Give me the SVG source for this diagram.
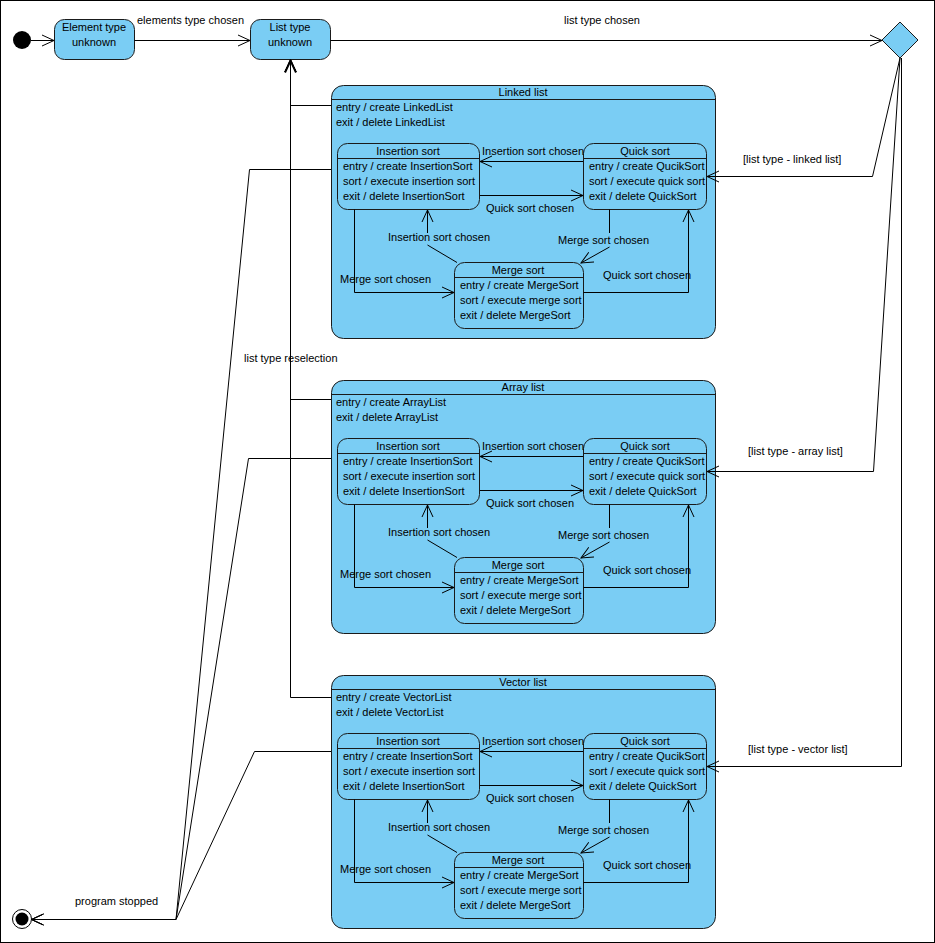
<svg xmlns="http://www.w3.org/2000/svg" width="935" height="943" viewBox="0 0 935 943">
<defs>
<marker id="arr" markerUnits="userSpaceOnUse" markerWidth="14" markerHeight="14" viewBox="0 0 14 14" refX="12" refY="7" orient="auto">
<path d="M0,1.5 L12,7 L0,12.5" fill="none" stroke="#000" stroke-width="1"/>
</marker>
<marker id="arrb" markerUnits="userSpaceOnUse" markerWidth="14" markerHeight="14" viewBox="0 0 14 14" refX="12" refY="7" orient="auto">
<path d="M0,1.5 L12,7 L0,12.5" fill="none" stroke="#000" stroke-width="2"/>
</marker>
<style>
text{font-family:"Liberation Sans",Arial,sans-serif;font-size:11px;fill:#000}
.m{text-anchor:middle}
.st{fill:#7ACDF4;stroke:#1a1a1a;stroke-width:1}
.ln{fill:none;stroke:#1a1a1a;stroke-width:1}
.c{fill:none;stroke:#000;stroke-width:1;marker-end:url(#arr)}
.c0{fill:none;stroke:#000;stroke-width:1}
</style>
</defs>
<rect x="0.5" y="0.5" width="934" height="942" fill="#fff" stroke="#000"/>

<g id="initial"><circle cx="22" cy="40" r="9" fill="#000"/></g>
<g id="final"><circle cx="22" cy="919" r="9.5" fill="#fff" stroke="#000"/><circle cx="22" cy="919" r="6.5" fill="#000"/></g>

<g id="element-type-unknown">
<rect class="st" x="54.5" y="19.5" width="80" height="40" rx="10"/>
<text class="m" x="94" y="31">Element type</text>
<text class="m" x="94" y="46">unknown</text>
</g>
<g id="list-type-unknown">
<rect class="st" x="250.5" y="19.5" width="80" height="40" rx="10"/>
<text class="m" x="290" y="31">List type</text>
<text class="m" x="290" y="46">unknown</text>
</g>
<g id="choice"><path class="st" d="M900,22 L918,40 L900,58 L882,40 Z"/></g>

<g id="linked-list">
<rect class="st" x="331.5" y="85.5" width="384" height="253" rx="12"/>
<path class="ln" d="M331.5,99.5 H715.5"/>
<text class="m" x="523" y="96">Linked list</text>
<text x="336" y="111">entry / create LinkedList</text>
<text x="336" y="126">exit / delete LinkedList</text>
<g id="linked-insertion-sort">
<rect class="st" x="337.5" y="143.5" width="142" height="66" rx="10"/><path class="ln" d="M337.5,158.5 H479.5"/>
<text class="m" x="408" y="155">Insertion sort</text>
<text x="343" y="170">entry / create InsertionSort</text><text x="343" y="185">sort / execute insertion sort</text><text x="343" y="200">exit / delete InsertionSort</text>
</g>
<g id="linked-quick-sort">
<rect class="st" x="583.5" y="143.5" width="123" height="66" rx="10"/><path class="ln" d="M583.5,158.5 H706.5"/>
<text class="m" x="645" y="155">Quick sort</text>
<text x="589" y="170">entry / create QucikSort</text><text x="589" y="185">sort / execute quick sort</text><text x="589" y="200">exit / delete QuickSort</text>
</g>
<g id="linked-merge-sort">
<rect class="st" x="454.5" y="262.5" width="129" height="66" rx="10"/><path class="ln" d="M454.5,277.5 H583.5"/>
<text class="m" x="518" y="274">Merge sort</text>
<text x="460" y="289">entry / create MergeSort</text><text x="460" y="304">sort / execute merge sort</text><text x="460" y="319">exit / delete MergeSort</text>
</g>
</g>

<g id="array-list" transform="translate(0,295)">
<rect class="st" x="331.5" y="85.5" width="384" height="253" rx="12"/>
<path class="ln" d="M331.5,99.5 H715.5"/>
<text class="m" x="523" y="96">Array list</text>
<text x="336" y="111">entry / create ArrayList</text>
<text x="336" y="126">exit / delete ArrayList</text>
<g id="array-insertion-sort">
<rect class="st" x="337.5" y="143.5" width="142" height="66" rx="10"/><path class="ln" d="M337.5,158.5 H479.5"/>
<text class="m" x="408" y="155">Insertion sort</text>
<text x="343" y="170">entry / create InsertionSort</text><text x="343" y="185">sort / execute insertion sort</text><text x="343" y="200">exit / delete InsertionSort</text>
</g>
<g id="array-quick-sort">
<rect class="st" x="583.5" y="143.5" width="123" height="66" rx="10"/><path class="ln" d="M583.5,158.5 H706.5"/>
<text class="m" x="645" y="155">Quick sort</text>
<text x="589" y="170">entry / create QucikSort</text><text x="589" y="185">sort / execute quick sort</text><text x="589" y="200">exit / delete QuickSort</text>
</g>
<g id="array-merge-sort">
<rect class="st" x="454.5" y="262.5" width="129" height="66" rx="10"/><path class="ln" d="M454.5,277.5 H583.5"/>
<text class="m" x="518" y="274">Merge sort</text>
<text x="460" y="289">entry / create MergeSort</text><text x="460" y="304">sort / execute merge sort</text><text x="460" y="319">exit / delete MergeSort</text>
</g>
</g>

<g id="vector-list" transform="translate(0,590)">
<rect class="st" x="331.5" y="85.5" width="384" height="253" rx="12"/>
<path class="ln" d="M331.5,99.5 H715.5"/>
<text class="m" x="523" y="96">Vector list</text>
<text x="336" y="111">entry / create VectorList</text>
<text x="336" y="126">exit / delete VectorList</text>
<g id="vector-insertion-sort">
<rect class="st" x="337.5" y="143.5" width="142" height="66" rx="10"/><path class="ln" d="M337.5,158.5 H479.5"/>
<text class="m" x="408" y="155">Insertion sort</text>
<text x="343" y="170">entry / create InsertionSort</text><text x="343" y="185">sort / execute insertion sort</text><text x="343" y="200">exit / delete InsertionSort</text>
</g>
<g id="vector-quick-sort">
<rect class="st" x="583.5" y="143.5" width="123" height="66" rx="10"/><path class="ln" d="M583.5,158.5 H706.5"/>
<text class="m" x="645" y="155">Quick sort</text>
<text x="589" y="170">entry / create QucikSort</text><text x="589" y="185">sort / execute quick sort</text><text x="589" y="200">exit / delete QuickSort</text>
</g>
<g id="vector-merge-sort">
<rect class="st" x="454.5" y="262.5" width="129" height="66" rx="10"/><path class="ln" d="M454.5,277.5 H583.5"/>
<text class="m" x="518" y="274">Merge sort</text>
<text x="460" y="289">entry / create MergeSort</text><text x="460" y="304">sort / execute merge sort</text><text x="460" y="319">exit / delete MergeSort</text>
</g>
</g>

<g id="connectors">
<path class="c" d="M31,40.5 H54"/>
<path class="c" d="M134.5,40.5 H250"/>
<text x="137" y="24">elements type chosen</text>
<path class="c" d="M330.5,40.5 H882"/>
<text class="m" x="602" y="24">list type chosen</text>

<path class="c" d="M900,58 L872.5,176.5 H707"/>
<text x="743" y="163">[list type - linked list]</text>
<path class="c" d="M900,58 L873.5,471.5 H707"/>
<text x="748" y="455">[list type - array list]</text>
<path class="c" d="M901.5,58 V766.5 H707"/>
<text x="748" y="753">[list type - vector list]</text>

<path class="c" d="M331,105.5 H290.5 V60"/>
<path class="c" d="M331,399.5 H290.5 V60"/>
<path class="c" d="M331,697.5 H290.5 V60"/>
<path class="c0" d="M290.5,105 V60.5" stroke-width="2" marker-end="url(#arrb)"/>
<text x="244" y="362">list type reselection</text>

<path class="c" d="M331,169.5 H249.5 L176,919.5 H31.5"/>
<path class="c" d="M331,458.5 H248.5 L176,919.5 H31.5"/>
<path class="c" d="M331,751.5 H254.5 L176,919.5 H31.5"/>
<text x="75" y="905">program stopped</text>

<g id="linked-connectors">
<path class="c" d="M583,161.5 H480"/>
<text x="482" y="155">Insertion sort chosen</text>
<path class="c" d="M480,195.5 H583"/>
<text x="486" y="212">Quick sort chosen</text>
<path class="c" d="M354.5,209.5 V292.5 H454"/>
<text x="340" y="283">Merge sort chosen</text>
<path class="c" d="M457,262.5 L427.5,245 M427.5,233 V210"/>
<text x="388" y="241">Insertion sort chosen</text>
<path class="c" d="M609.5,209.5 V233 M609.5,247 L581,263"/>
<text x="558" y="244">Merge sort chosen</text>
<path class="c" d="M583.5,292.5 H688.5 V210"/>
<text x="603" y="279">Quick sort chosen</text>
</g>
<g id="array-connectors" transform="translate(0,295)">
<path class="c" d="M583,161.5 H480"/>
<text x="482" y="155">Insertion sort chosen</text>
<path class="c" d="M480,195.5 H583"/>
<text x="486" y="212">Quick sort chosen</text>
<path class="c" d="M354.5,209.5 V292.5 H454"/>
<text x="340" y="283">Merge sort chosen</text>
<path class="c" d="M457,262.5 L427.5,245 M427.5,233 V210"/>
<text x="388" y="241">Insertion sort chosen</text>
<path class="c" d="M609.5,209.5 V233 M609.5,247 L581,263"/>
<text x="558" y="244">Merge sort chosen</text>
<path class="c" d="M583.5,292.5 H688.5 V210"/>
<text x="603" y="279">Quick sort chosen</text>
</g>
<g id="vector-connectors" transform="translate(0,590)">
<path class="c" d="M583,161.5 H480"/>
<text x="482" y="155">Insertion sort chosen</text>
<path class="c" d="M480,195.5 H583"/>
<text x="486" y="212">Quick sort chosen</text>
<path class="c" d="M354.5,209.5 V292.5 H454"/>
<text x="340" y="283">Merge sort chosen</text>
<path class="c" d="M457,262.5 L427.5,245 M427.5,233 V210"/>
<text x="388" y="241">Insertion sort chosen</text>
<path class="c" d="M609.5,209.5 V233 M609.5,247 L581,263"/>
<text x="558" y="244">Merge sort chosen</text>
<path class="c" d="M583.5,292.5 H688.5 V210"/>
<text x="603" y="279">Quick sort chosen</text>
</g>
</g>
</svg>
